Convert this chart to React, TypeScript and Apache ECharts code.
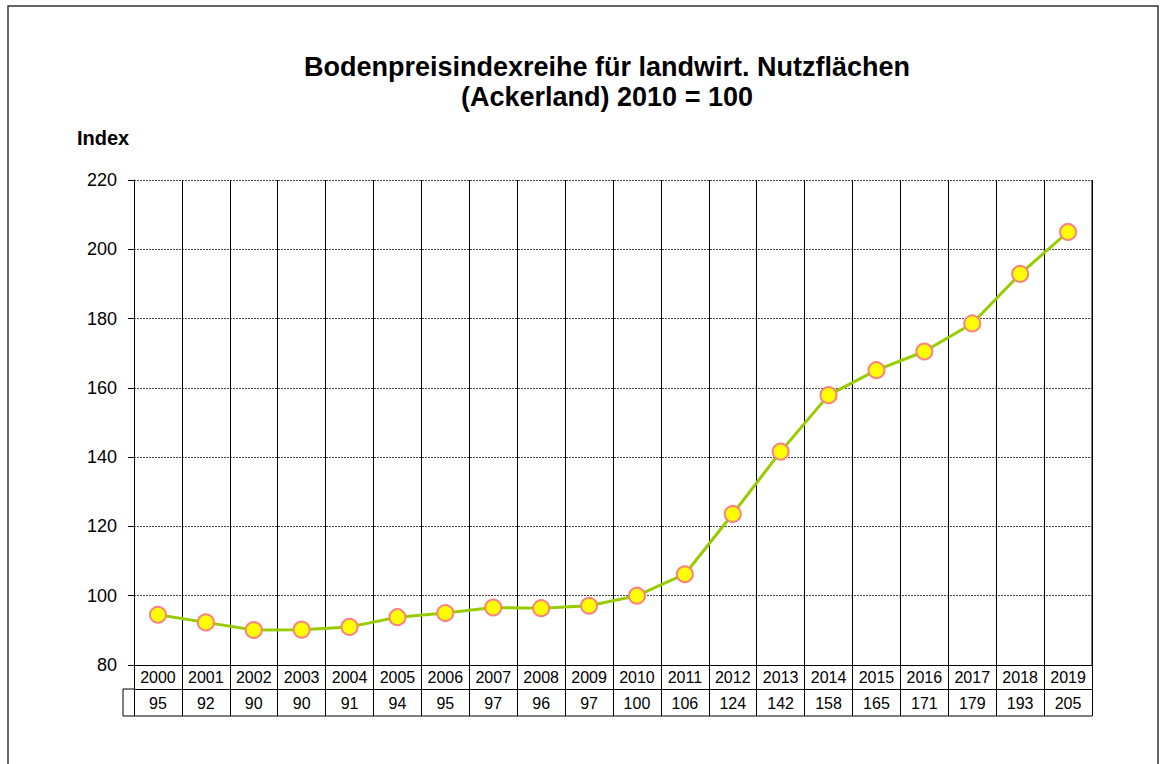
import React, { useEffect, useRef } from "react";
import * as echarts from "echarts";

const years = ["2000","2001","2002","2003","2004","2005","2006","2007","2008","2009","2010","2011","2012","2013","2014","2015","2016","2017","2018","2019"];
const indexValues = [94.5, 92.3, 90.1, 90.2, 91.0, 93.8, 95.0, 96.6, 96.4, 97.1, 100.0, 106.2, 123.6, 141.6, 157.9, 165.1, 170.5, 178.6, 192.9, 205.0];
const tableValues = [95, 92, 90, 90, 91, 94, 95, 97, 96, 97, 100, 106, 124, 142, 158, 165, 171, 179, 193, 205];
const titleLines = ["Bodenpreisindexreihe für landwirt. Nutzflächen", "(Ackerland) 2010 = 100"];
const yAxisLabel = "Index";

const FONT = "'Liberation Sans', Arial, sans-serif";

export default function App() {
  const ref = useRef<HTMLDivElement>(null);
  useEffect(() => {
    if (!ref.current) return;
    const chart = echarts.init(ref.current, null, { renderer: "svg" });
    const gl = 134, gt = 180, gw = 958, gh = 485;
    chart.setOption({
      animation: false,
      backgroundColor: "#ffffff",
      textStyle: { fontFamily: FONT },
      grid: { left: gl, top: gt, width: gw, height: gh, containLabel: false },
      graphic: [
        { type: "rect", shape: { x: 8, y: 6, width: 1150, height: 790 }, style: { fill: "none", stroke: "#333", lineWidth: 1.5 }, silent: true },
        { type: "text", x: 607, y: 67, style: { text: titleLines[0], font: `bold 27px ${FONT}`, fill: "#000", textAlign: "center", textVerticalAlign: "middle" } },
        { type: "text", x: 607, y: 97, style: { text: titleLines[1], font: `bold 27px ${FONT}`, fill: "#000", textAlign: "center", textVerticalAlign: "middle" } },
        { type: "text", x: 77, y: 138, style: { text: yAxisLabel, font: `bold 20px ${FONT}`, fill: "#000", textAlign: "left", textVerticalAlign: "middle" } },
        { type: "line", shape: { x1: 123, y1: gt + gh + 24, x2: gl, y2: gt + gh + 24 }, style: { stroke: "#000", lineWidth: 1 } },
        { type: "line", shape: { x1: 123, y1: gt + gh + 24, x2: 123, y2: gt + gh + 51 }, style: { stroke: "#000", lineWidth: 1 } },
        { type: "line", shape: { x1: 123, y1: gt + gh + 51, x2: gl + gw, y2: gt + gh + 51 }, style: { stroke: "#000", lineWidth: 1 } },
        { type: "line", shape: { x1: gl + gw, y1: gt, x2: gl + gw, y2: gt + gh }, style: { stroke: "#000", lineWidth: 1 } },
      ],
      xAxis: [
        {
          type: "category",
          data: years,
          position: "bottom",
          boundaryGap: true,
          axisLine: { show: true, lineStyle: { color: "#000", width: 1 } },
          axisTick: { show: true, length: 24, inside: false, lineStyle: { color: "#000", width: 1 } },
          axisLabel: { interval: 0, margin: 4, fontSize: 16, color: "#000", fontFamily: FONT },
          splitLine: { show: true, interval: 0, lineStyle: { color: "#000", width: 1 } },
        },
        {
          type: "category",
          data: years,
          position: "bottom",
          offset: 24,
          boundaryGap: true,
          axisLine: { show: true, lineStyle: { color: "#000", width: 1 } },
          axisTick: { show: true, length: 27, inside: false, lineStyle: { color: "#000", width: 1 } },
          axisLabel: {
            interval: 0, margin: 6, fontSize: 16, color: "#000", fontFamily: FONT,
            formatter: (_v: string, i: number) => String(tableValues[i]),
          },
          splitLine: { show: false },
        },
      ],
      yAxis: {
        type: "value",
        min: 80,
        max: 220,
        interval: 20,
        axisLine: { show: true, lineStyle: { color: "#000", width: 1 } },
        axisTick: { show: true, length: 6, inside: false, lineStyle: { color: "#000", width: 1 } },
        axisLabel: { margin: 17, fontSize: 18, color: "#000", fontFamily: FONT },
        splitLine: { show: true, lineStyle: { color: "#444", width: 1, type: [2, 1] } },
      },
      series: [
        {
          type: "line",
          data: indexValues,
          xAxisIndex: 0,
          symbol: "circle",
          symbolSize: 16,
          lineStyle: { color: "#99cc00", width: 3 },
          itemStyle: { color: "#ffff00", borderColor: "#ff8080", borderWidth: 2 },
          z: 5,
        },
      ],
    });
    return () => chart.dispose();
  }, []);
  return <div ref={ref} style={{ position: "fixed", left: 0, top: 0, width: 1164, height: 764 }} />;
}
